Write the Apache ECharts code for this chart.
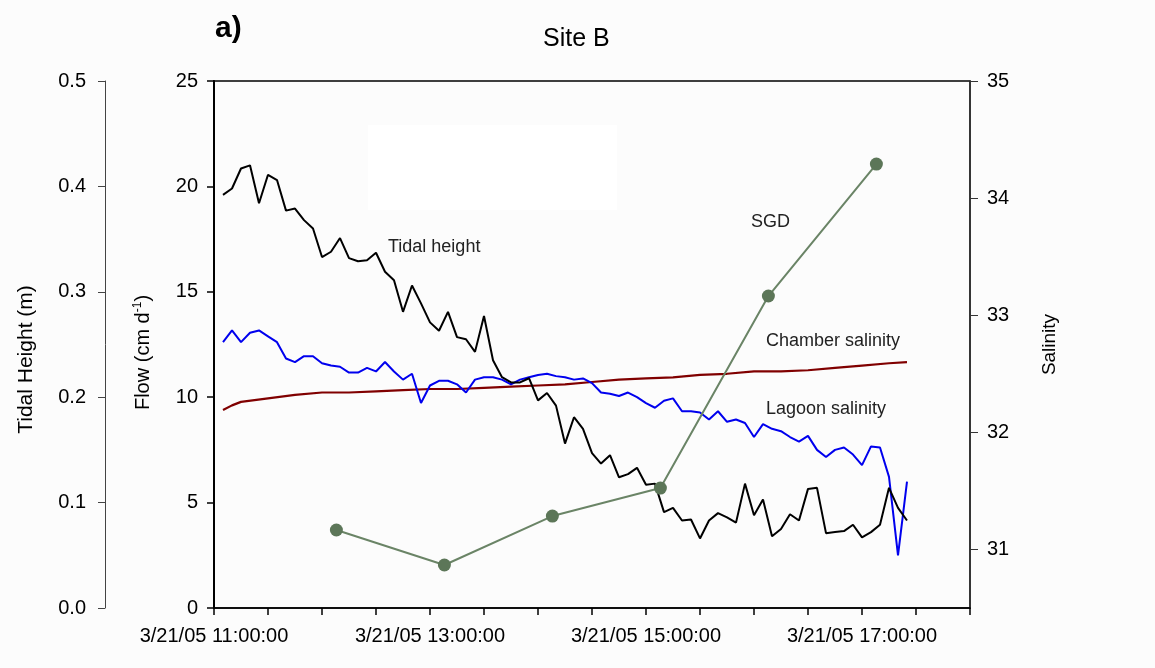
<!DOCTYPE html>
<html>
<head>
<meta charset="utf-8">
<script src="https://cdn.jsdelivr.net/npm/echarts@6/dist/echarts.min.js"></script>
<style>
html,body{margin:0;padding:0;background:#fcfcfc;}
#chart{width:1155px;height:668px;}
</style>
</head>
<body>
<div id="chart"></div>
<script>
// ---- data ----
var tideTimes = ["11:05","11:10","11:15","11:20","11:25","11:30","11:35","11:40","11:45","11:50",
  "11:55","12:00","12:05","12:10","12:15","12:20","12:25","12:30","12:35","12:40",
  "12:45","12:50","12:55","13:00","13:05","13:10","13:15","13:20","13:25","13:30",
  "13:35","13:40","13:45","13:50","13:55","14:00","14:05","14:10","14:15","14:20",
  "14:25","14:30","14:35","14:40","14:45","14:50","14:55","15:00","15:05","15:10",
  "15:15","15:20","15:25","15:30","15:35","15:40","15:45","15:50","15:55","16:00",
  "16:05","16:10","16:15","16:20","16:25","16:30","16:35","16:40","16:45","16:50",
  "16:55","17:00","17:05","17:10","17:15","17:20","17:25"];
var tidalHeight = [0.392,0.398,0.417,0.420,0.384,0.411,0.406,0.377,0.379,0.368,
  0.360,0.333,0.338,0.351,0.332,0.329,0.330,0.337,0.319,0.311,
  0.281,0.306,0.289,0.271,0.263,0.281,0.257,0.255,0.243,0.277,
  0.235,0.219,0.214,0.214,0.218,0.197,0.204,0.192,0.156,0.181,
  0.170,0.147,0.137,0.145,0.124,0.127,0.133,0.117,0.118,0.091,
  0.095,0.083,0.084,0.066,0.083,0.090,0.086,0.081,0.118,0.088,
  0.103,0.068,0.075,0.089,0.083,0.113,0.114,0.071,0.072,0.073,
  0.079,0.067,0.072,0.079,0.114,0.095,0.083];
var lagoonSalinity = [32.77,32.87,32.77,32.85,32.87,32.82,32.77,32.63,32.60,32.65,
  32.65,32.59,32.57,32.56,32.51,32.51,32.55,32.52,32.60,32.52,
  32.45,32.50,32.25,32.40,32.44,32.44,32.41,32.34,32.45,32.47,
  32.47,32.45,32.41,32.45,32.47,32.49,32.50,32.48,32.47,32.45,
  32.46,32.42,32.34,32.33,32.31,32.34,32.30,32.25,32.21,32.27,
  32.29,32.18,32.18,32.17,32.11,32.18,32.09,32.11,32.08,31.96,
  32.07,32.03,32.01,31.96,31.92,31.97,31.85,31.79,31.85,31.87,
  31.81,31.72,31.88,31.87,31.62,30.95,31.58];
var chamberTimes = ["11:05","11:10","11:15","11:30","11:45","12:00","12:15","12:30","12:45","13:00",
  "13:15","13:30","13:45","14:00","14:15","14:30","14:45","15:00","15:15","15:30",
  "15:45","16:00","16:15","16:30","16:45","17:00","17:15","17:25"];
var chamberSalinity = [32.19,32.23,32.26,32.29,32.32,32.34,32.34,32.35,32.36,32.37,
  32.37,32.38,32.39,32.40,32.41,32.43,32.45,32.46,32.47,32.49,
  32.50,32.52,32.52,32.53,32.55,32.57,32.59,32.60];
var sgdTimes = ["12:08","13:08","14:08","15:08","16:08","17:08"];
var sgdFlow = [3.70,2.04,4.36,5.69,14.80,21.06];
var xLabelHours = [11,13,15,17];
var salinityTicks = [31,32,33,34,35];

function toHours(t){var p=t.split(':');return +p[0] + (+p[1])/60;}
function pair(times, vals){return times.map(function(t,i){return [toHours(t), vals[i]];});}

var FONT = "'Liberation Sans', Arial, sans-serif";
var chart = echarts.init(document.getElementById('chart'));
chart.setOption({
  backgroundColor: '#fcfcfc',
  animation: false,
  textStyle: {fontFamily: FONT},
  grid: {left: 214, right: 185, top: 81, bottom: 60, show: true, borderColor: '#000', borderWidth: 1.5, backgroundColor: 'transparent'},
  graphic: [
    {type: 'rect', shape: {x: 368, y: 125, width: 249, height: 85}, style: {fill: '#ffffff'}, z: -10, silent: true},
    {type: 'text', left: 215, top: 14, style: {text: 'a)', font: 'bold 30px ' + FONT, fill: '#000'}},
    {type: 'text', left: 543, top: 27, style: {text: 'Site B', font: '25px ' + FONT, fill: '#000'}},
    {type: 'text', left: 388, top: 238, style: {text: 'Tidal height', font: '18px ' + FONT, fill: '#222'}},
    {type: 'text', left: 751, top: 213, style: {text: 'SGD', font: '18px ' + FONT, fill: '#222'}},
    {type: 'text', left: 766, top: 332, style: {text: 'Chamber salinity', font: '18px ' + FONT, fill: '#222'}},
    {type: 'text', left: 766, top: 400, style: {text: 'Lagoon salinity', font: '18px ' + FONT, fill: '#222'}}
  ],
  xAxis: {
    type: 'value', min: 11, max: 18, interval: 0.5,
    axisLine: {show: true, lineStyle: {color: '#000', width: 1.5}},
    axisTick: {show: true, inside: false, length: 7, lineStyle: {color: '#000', width: 1.5}},
    splitLine: {show: false},
    axisLabel: {
      color: '#000', fontSize: 20, margin: 18, fontFamily: FONT,
      formatter: function(v){
        var h = Math.round(v);
        if (Math.abs(v - h) < 1e-6 && xLabelHours.indexOf(h) >= 0) return '3/21/05 ' + h + ':00:00';
        return '';
      }
    }
  },
  yAxis: [
    {
      type: 'value', min: 0, max: 25, interval: 5, position: 'left',
      name: 'Flow (cm d{sup|-1})', nameLocation: 'middle', nameRotate: 90, nameGap: 60,
      nameTextStyle: {color: '#000', fontSize: 20, fontFamily: FONT, padding: [0, 0, 0, -16], rich: {sup: {fontSize: 12, verticalAlign: 'top', padding: [0,0,10,0]}}},
      axisLine: {show: true, lineStyle: {color: '#000', width: 2}},
      axisTick: {show: true, length: 7, lineStyle: {color: '#000', width: 1.5}},
      splitLine: {show: false},
      axisLabel: {color: '#000', fontSize: 20, margin: 16, fontFamily: FONT}
    },
    {
      type: 'value', min: 0, max: 0.5, interval: 0.1, position: 'left', offset: 109,
      name: 'Tidal Height (m)', nameLocation: 'middle', nameRotate: 90, nameGap: 68,
      nameTextStyle: {color: '#000', fontSize: 21, fontFamily: FONT, padding: [0, 0, 0, -30]},
      axisLine: {show: true, lineStyle: {color: '#444', width: 1}},
      axisTick: {show: true, length: 7, lineStyle: {color: '#444', width: 1}},
      splitLine: {show: false},
      axisLabel: {color: '#000', fontSize: 20, margin: 19, fontFamily: FONT, formatter: function(v){return v.toFixed(1);}}
    },
    {
      type: 'value', min: 30.5, max: 35, position: 'right',
      name: 'Salinity', nameLocation: 'middle', nameRotate: 90, nameGap: 70,
      nameTextStyle: {color: '#000', fontSize: 19, fontFamily: FONT},
      axisLine: {show: true, lineStyle: {color: '#333', width: 1.5}},
      axisTick: {show: true, length: 8, customValues: salinityTicks, lineStyle: {color: '#333', width: 1}},
      splitLine: {show: false},
      axisLabel: {color: '#000', fontSize: 20, margin: 17, fontFamily: FONT, customValues: salinityTicks}
    }
  ],
  series: [
    {
      name: 'Chamber salinity', type: 'line', yAxisIndex: 2, data: pair(chamberTimes, chamberSalinity),
      showSymbol: false, lineStyle: {color: '#800000', width: 2.2}, z: 2
    },
    {
      name: 'Lagoon salinity', type: 'line', yAxisIndex: 2, data: pair(tideTimes, lagoonSalinity),
      showSymbol: false, lineStyle: {color: '#0000ee', width: 2}, z: 3
    },
    {
      name: 'Tidal height', type: 'line', yAxisIndex: 1, data: pair(tideTimes, tidalHeight),
      showSymbol: false, lineStyle: {color: '#000', width: 2}, z: 4
    },
    {
      name: 'SGD', type: 'line', yAxisIndex: 0, data: pair(sgdTimes, sgdFlow),
      symbol: 'circle', symbolSize: 13, showSymbol: true,
      lineStyle: {color: '#6a8466', width: 2}, itemStyle: {color: '#5c7658'}, z: 5
    }
  ]
});
</script>
</body>
</html>
